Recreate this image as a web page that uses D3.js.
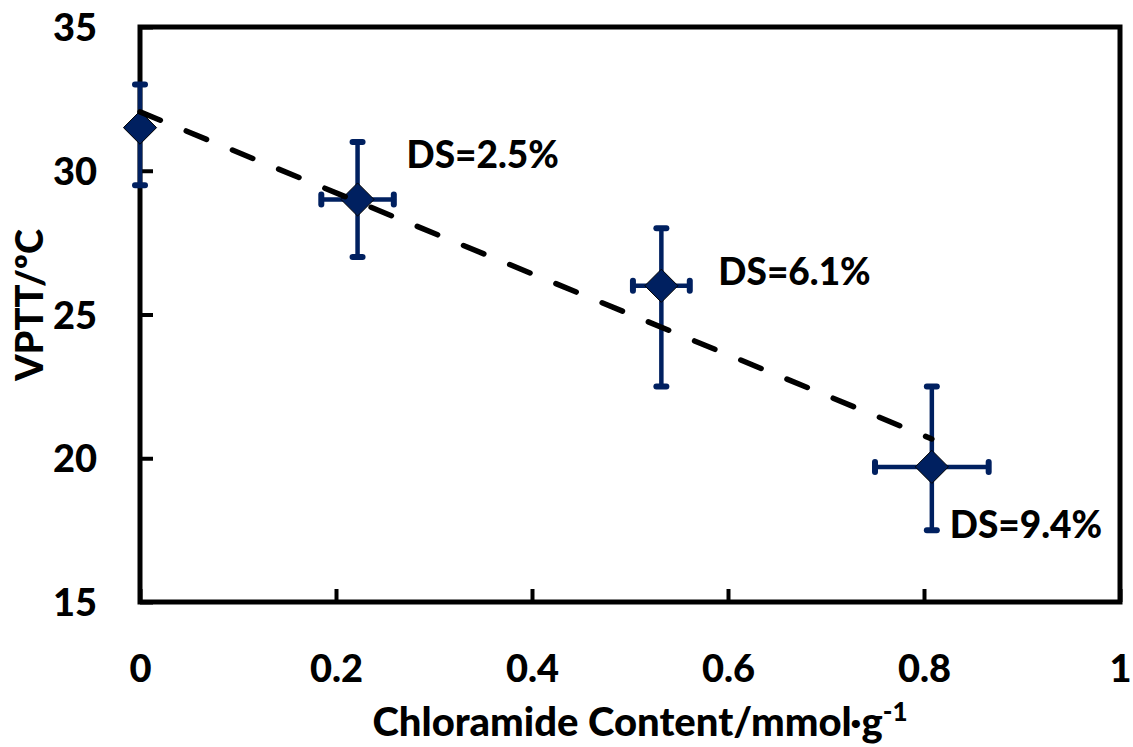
<!DOCTYPE html>
<html>
<head>
<meta charset="utf-8">
<script src="https://cdn.jsdelivr.net/npm/d3@7"></script>
<style>
  html, body { margin: 0; padding: 0; background: #fff; }
  svg { display: block; }
  text { font-family: Lato, "Open Sans", sans-serif; font-weight: 900; fill: #000; }
</style>
</head>
<body>
<svg id="chart" width="1133" height="747"></svg>
<script>
// ---- data ----
const xValues  = [0, 0.222, 0.532, 0.808];
const yValues  = [31.5, 29, 26, 19.7];
const yLow     = [29.5, 27, 22.5, 17.5];
const yHigh    = [33, 31, 28, 22.5];
const xErr     = [0, 0.037, 0.029, 0.058];
const dsLabels = ["", "DS=2.5%", "DS=6.1%", "DS=9.4%"];
const xTicks   = [0, 0.2, 0.4, 0.6, 0.8, 1];
const yTicks   = [15, 20, 25, 30, 35];
const xTitle   = "Chloramide Content/mmol·g";
const yTitle   = "VPTT/ºC";

// ---- layout ----
const svg = d3.select("#chart");
const L = 140, R = 1120, T = 27, B = 602;
const x = d3.scaleLinear().domain([0, 1]).range([L, R]);
const y = d3.scaleLinear().domain([15, 35]).range([B, T]);
const navy = "#002060";

// frame
svg.append("rect").attr("x", L).attr("y", T).attr("width", R - L).attr("height", B - T)
  .attr("fill", "none").attr("stroke", "#000").attr("stroke-width", 5);

// axes with inward ticks
const fmtX = d => d === 0 ? "0" : (d === 1 ? "1" : d3.format(".1f")(d));
const xAxis = svg.append("g").attr("transform", `translate(0,${B})`)
  .call(d3.axisBottom(x).tickValues(xTicks).tickSize(-13).tickPadding(0).tickFormat(fmtX));
xAxis.select(".domain").remove();
xAxis.selectAll(".tick line").attr("stroke", "#000").attr("stroke-width", 4);
xAxis.selectAll(".tick text").attr("y", 80).attr("dy", 0)
  .style("font-size", "38px").attr("fill", "#000");

const yAxis = svg.append("g").attr("transform", `translate(${L},0)`)
  .call(d3.axisLeft(y).tickValues(yTicks).tickSize(-13).tickPadding(0));
yAxis.select(".domain").remove();
yAxis.selectAll(".tick line").attr("stroke", "#000").attr("stroke-width", 4);
yAxis.selectAll(".tick text").attr("x", -43).attr("dy", "0.36em")
  .style("font-size", "38px").attr("fill", "#000");

// axis titles
const xt = svg.append("text").attr("x", 640).attr("y", 736).attr("text-anchor", "middle")
  .style("font-size", "40px");
xt.append("tspan").text(xTitle);
xt.append("tspan").text("-1").attr("dy", -15).style("font-size", "26px");

svg.append("text").attr("transform", "translate(43,305) rotate(-90)")
  .attr("text-anchor", "middle").style("font-size", "38px").text(yTitle);

// data table
const pts = xValues.map((v, i) => ({ x: v, y: yValues[i], lo: yLow[i], hi: yHigh[i], xe: xErr[i], label: dsLabels[i] }));

// error bars
const eb = svg.append("g").attr("stroke", navy).attr("stroke-width", 4.5).attr("stroke-linecap", "round");
const capHalf = 5;
pts.forEach(p => {
  const cx = x(p.x), cy = y(p.y);
  eb.append("line").attr("x1", cx).attr("x2", cx).attr("y1", y(p.lo)).attr("y2", y(p.hi));
  [p.lo, p.hi].forEach(v => {
    eb.append("line").attr("x1", cx - capHalf).attr("x2", cx + capHalf).attr("y1", y(v)).attr("y2", y(v)).attr("stroke-width", 6);
  });
  if (p.xe > 0) {
    eb.append("line").attr("y1", cy).attr("y2", cy).attr("x1", x(p.x - p.xe)).attr("x2", x(p.x + p.xe));
    [p.x - p.xe, p.x + p.xe].forEach(v => {
      eb.append("line").attr("y1", cy - capHalf).attr("y2", cy + capHalf).attr("x1", x(v)).attr("x2", x(v)).attr("stroke-width", 6);
    });
  }
});

// diamond markers
svg.append("g").selectAll("path").data(pts).join("path")
  .attr("d", d3.symbol().type(d3.symbolDiamond2).size(700))
  .attr("transform", d => `translate(${x(d.x)},${y(d.y)})`)
  .attr("fill", navy).attr("stroke", "#000").attr("stroke-width", 1);

// linear trend line (least squares fit of the data)
const mx = d3.mean(xValues), my = d3.mean(yValues);
const slope = d3.sum(xValues, (v, i) => (v - mx) * (yValues[i] - my)) / d3.sum(xValues, v => (v - mx) ** 2);
const icpt = my - slope * mx;
const x0 = d3.min(xValues), x1 = d3.max(xValues);
svg.append("line")
  .attr("x1", x(x0)).attr("y1", y(icpt + slope * x0))
  .attr("x2", x(x1)).attr("y2", y(icpt + slope * x1))
  .attr("stroke", "#000").attr("stroke-width", 5.5)
  .attr("stroke-dasharray", "22,28").attr("stroke-linecap", "round");

// DS labels
const offs = [[0, 0], [49, -32], [57, -1], [18, 71]];
svg.append("g").selectAll("text").data(pts.filter(p => p.label)).join("text")
  .attr("x", (d, i) => x(d.x) + offs[i + 1][0])
  .attr("y", (d, i) => y(d.y) + offs[i + 1][1])
  .style("font-size", "37px").text(d => d.label);
</script>
</body>
</html>
